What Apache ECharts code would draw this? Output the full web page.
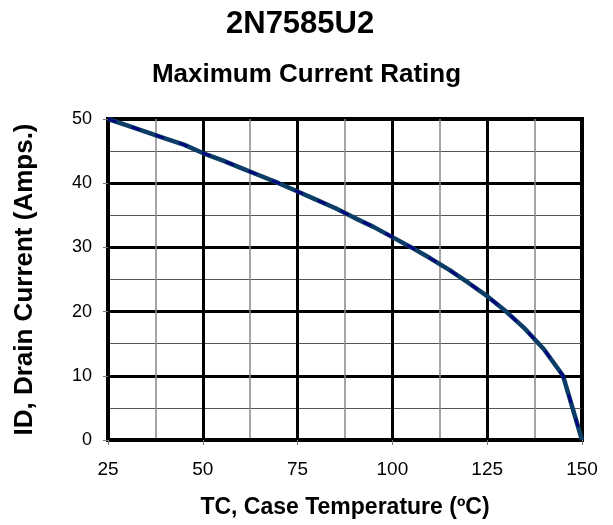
<!DOCTYPE html>
<html>
<head>
<meta charset="utf-8">
<script src="https://cdn.jsdelivr.net/npm/echarts@6/dist/echarts.min.js"></script>
<style>
  html, body { margin: 0; padding: 0; background: #fff; }
  #chart { width: 613px; height: 525px; }
</style>
</head>
<body>
<div id="chart"></div>
<script>
// case temperature (°C) and max drain current (A)
const temps = [25, 30, 35, 40, 45, 50, 55, 60, 65, 70, 75, 80, 85, 90, 95, 100, 105, 110, 115, 120, 125, 130, 135, 140, 145, 150];
const currents = [50.0, 49.0, 48.0, 47.0, 46.0, 44.7, 43.6, 42.4, 41.2, 40.0, 38.7, 37.4, 36.1, 34.6, 33.2, 31.6, 30.0, 28.3, 26.5, 24.5, 22.4, 20.0, 17.3, 14.1, 10.0, 0];

const points = temps.map((t, i) => [t, currents[i]]);
const font = 'Liberation Sans, Arial, sans-serif';

const chart = echarts.init(document.getElementById('chart'));
chart.setOption({
  animation: false,
  title: [
    {
      text: '2N7585U2',
      left: 221,
      top: 4,
      textStyle: { fontFamily: font, fontSize: 31, fontWeight: 'bold', color: '#000' },
    },
    {
      text: 'Maximum Current Rating',
      left: 'center',
      top: 57,
      textStyle: { fontFamily: font, fontSize: 26, fontWeight: 'bold', color: '#000' },
    },
  ],
  grid: {
    left: 108,
    right: 31,
    top: 119,
    bottom: 85,
    show: true,
    borderColor: '#000',
    borderWidth: 4,
  },
  xAxis: {
    type: 'value',
    min: 25,
    max: 150,
    interval: 25,
    name: 'TC, Case Temperature (ºC)',
    nameLocation: 'middle',
    nameGap: 56,
    nameTextStyle: { fontFamily: font, fontSize: 23, fontWeight: 'bold', color: '#000' },
    axisLine: { show: true, lineStyle: { color: '#000', width: 4 } },
    axisTick: { show: true, length: 5, lineStyle: { color: '#777', width: 1 } },
    axisLabel: { fontFamily: font, fontSize: 19, color: '#000', margin: 20 },
    splitLine: { show: true, lineStyle: { color: '#000', width: 3 } },
    minorTick: { show: false, splitNumber: 2 },
    minorSplitLine: { show: true, lineStyle: { color: '#888', width: 1.5 } },
  },
  yAxis: {
    type: 'value',
    min: 0,
    max: 50,
    interval: 10,
    name: 'ID, Drain Current (Amps.)',
    nameLocation: 'middle',
    nameGap: 70,
    nameTextStyle: { fontFamily: font, fontSize: 26, fontWeight: 'bold', color: '#000' },
    axisLine: { show: true, lineStyle: { color: '#000', width: 4 } },
    axisTick: { show: true, length: 5, lineStyle: { color: '#777', width: 1 } },
    axisLabel: { fontFamily: font, fontSize: 18, color: '#000', margin: 16 },
    splitLine: { show: true, lineStyle: { color: '#000', width: 3 } },
    minorTick: { show: false, splitNumber: 2 },
    minorSplitLine: { show: true, lineStyle: { color: '#555', width: 1.2 } },
  },
  series: [
    {
      type: 'line',
      data: points,
      symbol: 'none',
      lineStyle: { color: '#0b3d66', width: 4.5 },
      z: 3,
    },
    {
      type: 'line',
      data: points,
      symbol: 'none',
      lineStyle: { color: '#000080', width: 2.5, type: [9, 16] },
      z: 4,
    },
  ],
});
</script>
</body>
</html>
